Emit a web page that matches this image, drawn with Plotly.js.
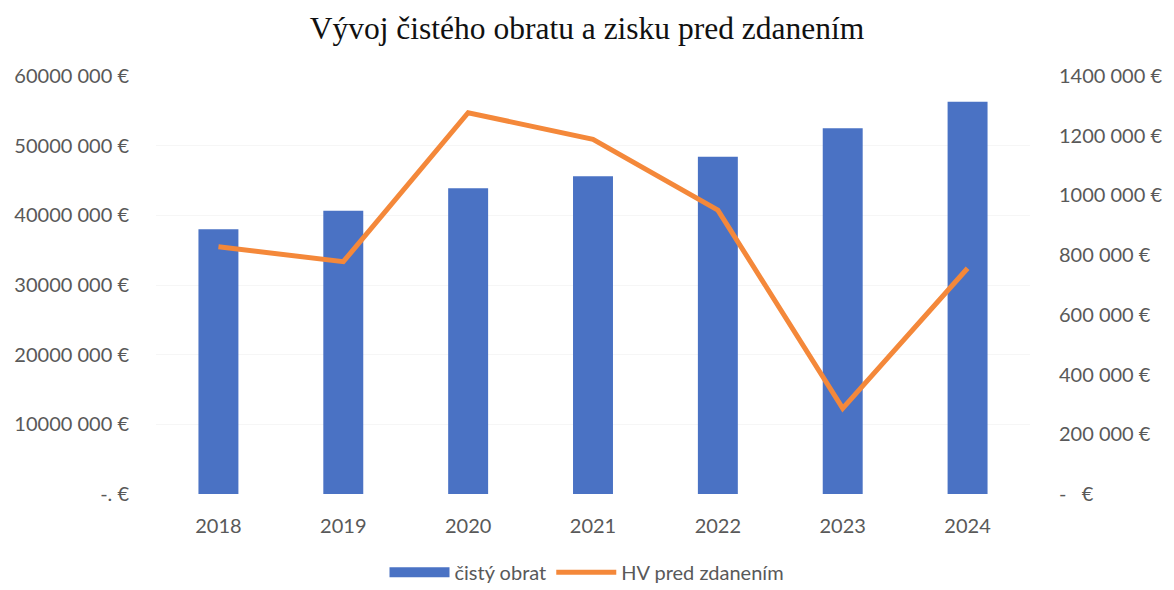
<!DOCTYPE html>
<html><head><meta charset="utf-8">
<script src="https://cdn.plot.ly/plotly-3.0.1.min.js"></script>
<style>html,body{margin:0;padding:0;background:#fff}#c{width:1174px;height:590px}</style>
</head><body><div id="c"></div>
<script>
const years = ['2018','2019','2020','2021','2022','2023','2024'];
const obrat = [38000000, 40650000, 43900000, 45600000, 48400000, 52500000, 56300000];
const hv = [828000, 778000, 1277000, 1188000, 951000, 287000, 756000];
const leftTickVals = [0,10000000,20000000,30000000,40000000,50000000,60000000];
const leftTickText = ['-. €','10000 000 €','20000 000 €','30000 000 €','40000 000 €','50000 000 €','60000 000 €'];
const rightTickVals = [0,200000,400000,600000,800000,1000000,1200000,1400000];
const rightTickText = ['-   €','200 000 €','400 000 €','600 000 €','800 000 €','1000 000 €','1200 000 €','1400 000 €'];

const tickFont = {family:'Lato, "Open Sans", sans-serif', size:20, color:'#595959'};
const data = [
  {type:'bar', x:years, y:obrat, name:'čistý obrat', marker:{color:'#4A72C4'}, width:0.32, showlegend:false},
  {type:'scatter', mode:'lines', x:[null], y:[null], name:'čistý obrat', line:{color:'#4A72C4', width:14}, hoverinfo:'skip'},
  {type:'scatter', mode:'lines', x:years, y:hv, name:'HV pred zdanením', yaxis:'y2',
   line:{color:'#F4883A', width:5}}
];
const layout = {
  width:1174, height:590,
  margin:{l:156, r:144, t:76, b:96, autoexpand:false},
  paper_bgcolor:'#fff', plot_bgcolor:'#fff',
  title:{text:'Vývoj čistého obratu a zisku pred zdanením', font:{family:'"Liberation Serif", "DejaVu Serif", serif', size:31.5, color:'#111'}, x:0.5, xanchor:'center', y:0.952, yanchor:'middle'},
  xaxis:{type:'category', categoryarray:years, tickfont:tickFont, showgrid:false, zeroline:false, showline:false, ticks:'', ticklabelstandoff:18},
  yaxis:{range:[0,60000000], tickvals:leftTickVals, ticktext:leftTickText, tickfont:tickFont,
    showgrid:true, gridcolor:'#f6f6f6', zeroline:false, showline:false, ticks:'', ticklabelstandoff:26},
  yaxis2:{range:[0,1400000], overlaying:'y', side:'right', tickvals:rightTickVals, ticktext:rightTickText, tickfont:tickFont,
    showgrid:false, zeroline:false, showline:false, ticks:'', ticklabelstandoff:28},
  showlegend:true,
  legend:{orientation:'h', xref:'container', yref:'container', x:0.5, xanchor:'center', y:0.03, yanchor:'middle',
    font:{family:'Lato, "Open Sans", sans-serif', size:20, color:'#595959'}, itemwidth:60, traceorder:'normal'},
  bargap:0.68
};
Plotly.newPlot('c', data, layout, {displayModeBar:false, staticPlot:true});
</script></body></html>
